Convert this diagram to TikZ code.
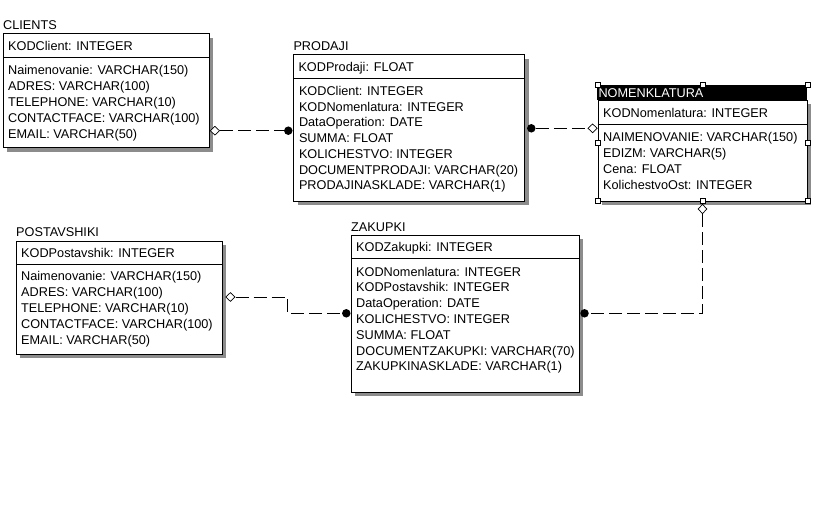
\documentclass[tikz,border=0pt]{standalone}
\usepackage{fontspec}
\setmainfont{Liberation Sans}
\usetikzlibrary{shadows,shapes.geometric}
\tikzset{
  x=1pt, y=-1pt,
  tbl/.style={draw=black, line width=0.8pt, fill=white, inner sep=0pt, anchor=north west,
    drop shadow={shadow xshift=4pt, shadow yshift=-4pt, fill=black!45, opacity=1}},
  txt/.style={anchor=base west, inner sep=0pt, font=\fontsize{12.7}{15}\selectfont},
  divline/.style={line width=0.8pt},
  conn/.style={line width=0.8pt, dash pattern=on 13pt off 5pt},
  diamh/.style={diamond, draw=black, line width=0.7pt, fill=white, inner sep=0pt, minimum width=9.5pt, minimum height=9pt},
  diamv/.style={diamond, draw=black, line width=0.7pt, fill=white, inner sep=0pt, minimum width=9pt, minimum height=9.5pt},
  dot/.style={circle, fill=black, inner sep=0pt, minimum size=8.5pt},
  handle/.style={draw=black, line width=0.6pt, fill=white, inner sep=0pt, minimum size=5pt},
}
% #1 name, #2 x, #3 top, #4 width, #5 height, #6 label, #7 key
\newcommand\entitybox[7]{%
  \node[tbl, minimum width=#4pt, minimum height=#5pt] (#1) at (#2,#3) {};
  \node[txt] (#1-lbl) at (#2,#3-4) {#6};
  \draw[divline] (#1.west |- 0,#3+23.7) -- (#1.east |- 0,#3+23.7);
  \node[txt] (#1-key) at (#2+5,#3+16.8) {#7};
}
\begin{document}
\begin{tikzpicture}
\useasboundingbox[fill=white] (0,0) rectangle (823,517);

% CLIENTS
\entitybox{clients}{3}{33.3}{206}{114}{CLIENTS}{KODClient: INTEGER}
\foreach \t [count=\i] in {{Naimenovanie: VARCHAR(150)},{ADRES: VARCHAR(100)},{TELEPHONE: VARCHAR(10)},{CONTACTFACE: VARCHAR(100)},{EMAIL: VARCHAR(50)}}
  \node[txt] (clients-a\i) at (8,33.3+41+15.95*\i-15.95) {\t};

% PRODAJI
\entitybox{prodaji}{293.3}{54.3}{231}{146.4}{PRODAJI}{KODProdaji: FLOAT}
\foreach \t [count=\i] in {{KODClient: INTEGER},{KODNomenlatura: INTEGER},{DataOperation: DATE},{SUMMA: FLOAT},{KOLICHESTVO: INTEGER},{DOCUMENTPRODAJI: VARCHAR(20)},{PRODAJINASKLADE: VARCHAR(1)}}
  \node[txt] (prodaji-a\i) at (298.8,54.3+41+15.75*\i-15.75) {\t};

% POSTAVSHIKI
\entitybox{postav}{16}{240.7}{205.5}{113.3}{POSTAVSHIKI}{KODPostavshik: INTEGER}
\foreach \t [count=\i] in {{Naimenovanie: VARCHAR(150)},{ADRES: VARCHAR(100)},{TELEPHONE: VARCHAR(10)},{CONTACTFACE: VARCHAR(100)},{EMAIL: VARCHAR(50)}}
  \node[txt] (postav-a\i) at (21,240.7+40+15.9*\i-15.9) {\t};

% ZAKUPKI
\entitybox{zakupki}{351}{235}{228}{156.7}{ZAKUPKI}{KODZakupki: INTEGER}
\foreach \t [count=\i] in {{KODNomenlatura: INTEGER},{KODPostavshik: INTEGER},{DataOperation: DATE},{KOLICHESTVO: INTEGER},{SUMMA: FLOAT},{DOCUMENTZAKUPKI: VARCHAR(70)},{ZAKUPKINASKLADE: VARCHAR(1)}}
  \node[txt] (zakupki-a\i) at (356,235+41+15.83*\i-15.83) {\t};

% NOMENKLATURA (selected)
\node[tbl, minimum width=209.3pt, minimum height=100.7pt] (nomen) at (597.7,100) {};
\fill[black] (597.3,85.3) rectangle (807.4,100);
\node[txt, text=white] (nomen-lbl) at (598.3,97.6) {NOMENKLATURA};
\draw[divline] (nomen.west |- 0,124.7) -- (nomen.east |- 0,124.7);
\node[txt] (nomen-key) at (603,117.3) {KODNomenlatura: INTEGER};
\foreach \t [count=\i] in {{NAIMENOVANIE: VARCHAR(150)},{EDIZM: VARCHAR(5)},{Cena: FLOAT},{KolichestvoOst: INTEGER}}
  \node[txt] (nomen-a\i) at (603,141.3+16*\i-16) {\t};
\node[inner sep=0pt, minimum width=209.6pt, minimum height=115.7pt, anchor=north west] (nomsel) at (597.5,85) {};
\foreach \a [count=\i] in {north west,north,north east,west,east,south west,south,south east}
  \node[handle] (h\i) at (nomsel.\a) {};

% connector CLIENTS - PRODAJI
\node[diamh, anchor=west] (d1) at (clients.east |- 0,130.7) {};
\node[dot] (c1) at (288.3,130.7) {};
\draw[conn] (d1.east) -- (c1.west);

% connector PRODAJI - NOMENKLATURA
\node[dot] (c2) at (531.3,128.3) {};
\node[diamh, anchor=east] (d2) at (nomen.west |- 0,128.3) {};
\draw[conn] (c2.east) -- (d2.west);

% connector NOMENKLATURA - ZAKUPKI
\node[diamv, anchor=north] (d3) at (h7.south) {};
\node[dot] (c3) at (584.5,313.3) {};
\draw[conn] (d3.south) |- (c3.east);

% connector POSTAVSHIKI - ZAKUPKI
\node[diamh, anchor=west] (d4) at (225.3,297) {};
\node[dot] (c4) at (346.3,313.3) {};
\coordinate (k4) at (287.5,305);
\draw[conn] (d4.east) -| (k4) |- (c4.west);
\end{tikzpicture}
\end{document}
